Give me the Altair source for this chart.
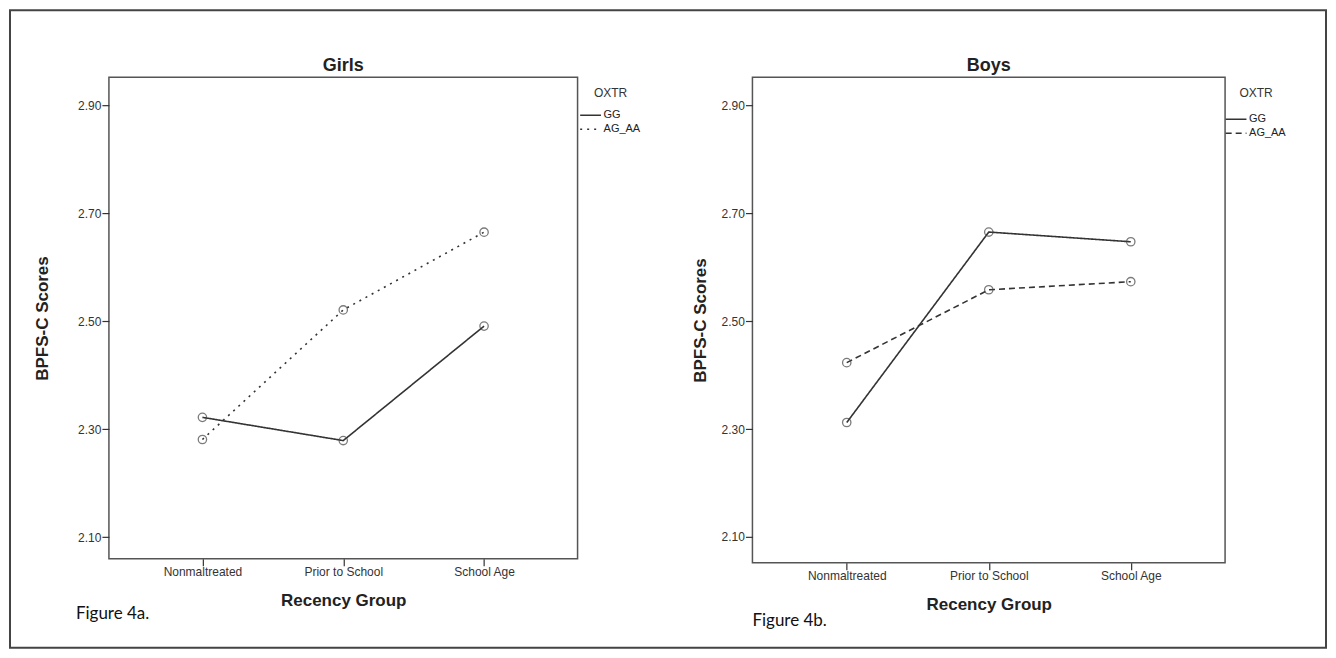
import altair as alt
import pandas as pd

groups = ["Nonmaltreated", "Prior to School", "School Age"]
genotypes = ["GG", "AG_AA"]
girls_gg = [2.322, 2.279, 2.491]
girls_ag = [2.281, 2.521, 2.665]
boys_gg = [2.312, 2.665, 2.647]
boys_ag = [2.423, 2.558, 2.573]
y_ticks = [2.1, 2.3, 2.5, 2.7, 2.9]

FONT = "Liberation Sans"


def panel(title, gg, ag, dash_range, w, h, ydom, leg_x, leg_y, leg_tpad,
          ytitle_pad, caption, cap_x, cap_y, border=False):
    df = pd.DataFrame({
        "group": groups * 2,
        "OXTR": ["GG"] * 3 + ["AG_AA"] * 3,
        "score": gg + ag,
    })
    x = alt.X("group:N", sort=groups,
              scale=alt.Scale(type="point", padding=0.664),
              axis=alt.Axis(title="Recency Group", labelAngle=0, titlePadding=15))
    y = alt.Y("score:Q",
              scale=alt.Scale(domain=ydom, nice=False, zero=False),
              axis=alt.Axis(values=y_ticks, format=".2f", title="BPFS-C Scores",
                            titlePadding=ytitle_pad))
    base = alt.Chart(df)
    lines = base.mark_line(color="#333333", strokeWidth=1.6).encode(
        x=x, y=y,
        strokeDash=alt.StrokeDash(
            "OXTR:N", sort=genotypes,
            scale=alt.Scale(domain=genotypes, range=dash_range),
            legend=alt.Legend(
                title="OXTR", orient="none", legendX=leg_x, legendY=leg_y,
                padding=0, titleAnchor="middle", titlePadding=leg_tpad,
                titleFont=FONT, titleFontSize=12, titleFontWeight="normal",
                titleColor="#333333",
                labelFont=FONT, labelFontSize=11, labelColor="#222222",
                labelOffset=4, rowPadding=0,
                symbolType="M-1.3,0L1.3,0", symbolSize=256,
                symbolStrokeWidth=1.5, symbolStrokeColor="#333333",
            ),
        ),
    )
    points = base.mark_point(shape="circle", filled=False, size=70,
                             color="#444444", strokeWidth=1.3).encode(x=x, y=y)
    cap = alt.Chart(alt.Data(values=[{"t": caption}])).mark_text(
        align="left", baseline="middle", font="Lato", fontSize=17, color="#111111"
    ).encode(x=alt.value(cap_x), y=alt.value(cap_y), text="t:N")
    ttl = alt.Chart(alt.Data(values=[{"t": title}])).mark_text(
        align="center", baseline="middle", font=FONT, fontSize=18,
        fontWeight="bold", color="#222222"
    ).encode(x=alt.value(w / 2), y=alt.value(-11), text="t:N")
    layers = [lines, points, cap, ttl]
    if border:
        rect = alt.Chart(alt.Data(values=[{}])).mark_rect(
            fillOpacity=0, stroke="#444444", strokeWidth=2
        ).encode(x=alt.value(-99), x2=alt.value(1218),
                 y=alt.value(-67), y2=alt.value(571))
        layers = [rect] + layers
    return alt.layer(*layers).properties(width=w, height=h)


left = panel("Girls", girls_gg, girls_ag, [[1, 0], [2, 5]], 469, 482,
             [2.06, 2.952], 473, 11, 6, 26, "Figure 4a.", -33, 537, border=True)
right = panel("Boys", boys_gg, boys_ag, [[1, 0], [6, 4]], 473, 486,
              [2.052, 2.952], 475, 11, 10, 12, "Figure 4b.", 0, 544)

chart = alt.hconcat(left, right, spacing=175, bounds="flush").resolve_scale(
    strokeDash="independent", x="independent", y="independent"
).resolve_legend(strokeDash="independent").properties(
    padding=0
).configure_view(
    stroke="#555555", strokeWidth=1.5
).configure_axis(
    domain=False, grid=False,
    labelFont=FONT, labelFontSize=12, labelColor="#333333",
    tickColor="#333333", tickSize=7, tickWidth=1.2, labelPadding=1,
    titleFont=FONT, titleFontSize=17, titleFontWeight="bold", titleColor="#222222",
)

chart.save("out.html", embed_options={"renderer": "svg", "actions": False})
